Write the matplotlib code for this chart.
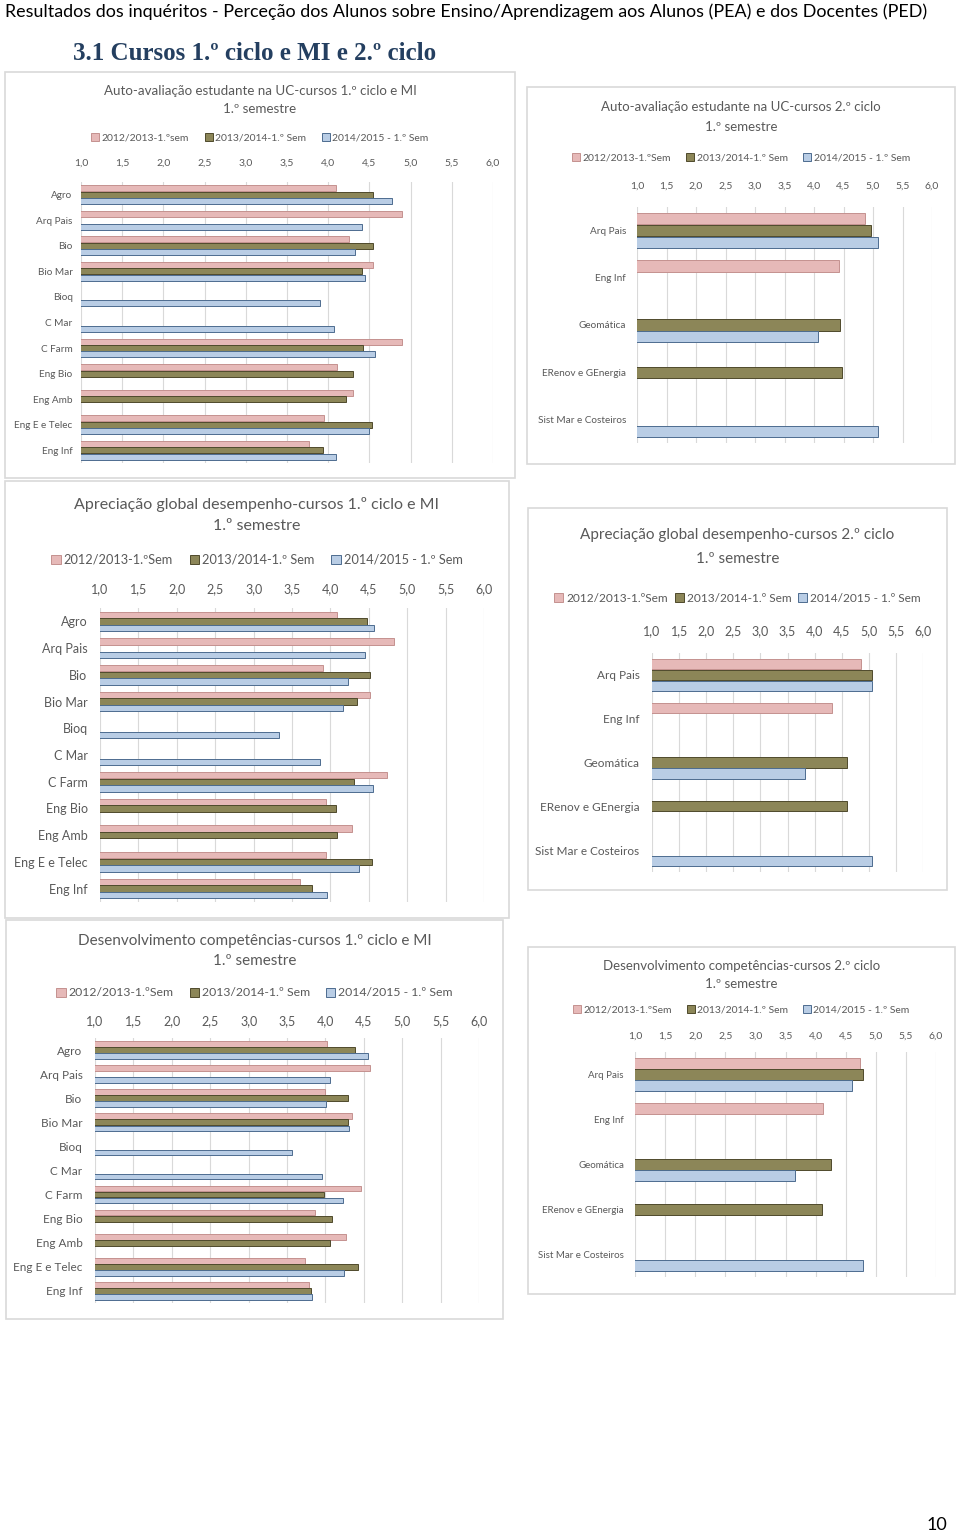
import numpy as np
import matplotlib
matplotlib.use("Agg")
from matplotlib import pyplot as plt
from matplotlib.patches import Patch, Rectangle

plt.rcParams["font.family"] = ["Lato", "DejaVu Sans"]

W, H = 960, 1536

# categories
cats_1 = ["Agro", "Arq Pais", "Bio", "Bio Mar", "Bioq", "C Mar", "C Farm",
          "Eng Bio", "Eng Amb", "Eng E e Telec", "Eng Inf"]
cats_2 = ["Arq Pais", "Eng Inf", "Geomática", "ERenov e GEnergia",
          "Sist Mar e Costeiros"]

# series labels
labels_a = ["2012/2013-1.ºsem", "2013/2014-1.º Sem", "2014/2015 - 1.º Sem"]
labels_b = ["2012/2013-1.ºSem", "2013/2014-1.º Sem", "2014/2015 - 1.º Sem"]

# Auto-avaliação estudante na UC
auto_1_1213 = [4.10, 4.89, 4.25, 4.54, None, None, 4.89, 4.11, 4.30, 3.95, 3.77]
auto_1_1314 = [4.54, None, 4.54, 4.41, None, None, 4.42, 4.30, 4.22, 4.53, 3.94]
auto_1_1415 = [4.77, 4.41, 4.32, 4.45, 3.90, 4.07, 4.57, None, None, 4.50, 4.10]
auto_2_1213 = [4.87, 4.43, None, None, None]
auto_2_1314 = [4.96, None, 4.44, 4.47, None]
auto_2_1415 = [5.09, None, 4.06, None, 5.08]

# Apreciação global desempenho
glob_1_1213 = [4.08, 4.83, 3.91, 4.51, None, None, 4.74, 3.94, 4.28, 3.94, 3.61]
glob_1_1314 = [4.48, None, 4.52, 4.34, None, None, 4.31, 4.07, 4.09, 4.54, 3.76]
glob_1_1415 = [4.57, 4.45, 4.23, 4.17, 3.33, 3.86, 4.55, None, None, 4.37, 3.96]
glob_2_1213 = [4.85, 4.33, None, None, None]
glob_2_1314 = [5.05, None, 4.60, 4.60, None]
glob_2_1415 = [5.05, None, 3.82, None, 5.05]

# Desenvolvimento competências
comp_1_1213 = [4.02, 4.58, 4.00, 4.35, None, None, 4.47, 3.86, 4.27, 3.74, 3.78]
comp_1_1314 = [4.39, None, 4.30, 4.29, None, None, 3.98, 4.09, 4.06, 4.42, 3.81]
comp_1_1415 = [4.55, 4.06, 4.01, 4.31, 3.57, 3.96, 4.23, None, None, 4.24, 3.83]
comp_2_1213 = [4.73, 4.13, None, None, None]
comp_2_1314 = [4.78, None, 4.25, 4.10, None]
comp_2_1415 = [4.60, None, 3.66, None, 4.79]

FILLS = ["#E6B9B8", "#8C8658", "#B9CDE5"]
EDGES = ["#C4918F", "#4F4A2C", "#4D6C8F"]
GREY = "#595959"


def fx(x):
    return x / W


def fy(y):
    return 1 - y / H


def chart(fig, panel, plot, title, title_y, title_fs, legend_y, legend_fs,
          labels, cats, series, tick_fs, cat_fs, tick_pad, cat_pad, colsp=1.3):
    px0, py0, px1, py1 = panel
    fig.add_artist(Rectangle((fx(px0), fy(py1)), fx(px1 - px0), (py1 - py0) / H,
                             transform=fig.transFigure, fill=False,
                             edgecolor="#D9D9D9", lw=1.2))
    x0, y0, x1, y1 = plot
    ax = fig.add_axes([fx(x0), fy(y1), fx(x1 - x0), (y1 - y0) / H])
    ypos = np.arange(len(cats))
    offsets = [-0.25, 0.0, 0.25]
    for vals, off, fc, ec in zip(series, offsets, FILLS, EDGES):
        idx = [i for i, v in enumerate(vals) if v is not None]
        ax.barh(ypos[idx] + off, [vals[i] for i in idx], height=0.235,
                color=fc, edgecolor=ec, lw=0.7, zorder=3)
    ax.set_xlim(1, 6)
    ax.set_ylim(len(cats) - 0.5, -0.5)
    ticks = np.arange(1, 6.01, 0.5)
    ax.set_xticks(ticks)
    ax.set_xticklabels([f"{t:.1f}".replace(".", ",") for t in ticks])
    ax.xaxis.tick_top()
    ax.tick_params(axis="x", length=0, pad=tick_pad, labelsize=tick_fs,
                   labelcolor=GREY)
    ax.set_yticks(ypos)
    ax.set_yticklabels(cats)
    ax.tick_params(axis="y", length=0, pad=cat_pad, labelsize=cat_fs,
                   labelcolor=GREY)
    ax.grid(axis="x", color="#D9D9D9", lw=0.8, zorder=0)
    for s in ax.spines.values():
        s.set_visible(False)

    cx = (px0 + px1) / 2
    fig.text(fx(cx), fy(title_y[0]), title[0], ha="center", va="center",
             fontsize=title_fs, color=GREY)
    fig.text(fx(cx), fy(title_y[1]), title[1], ha="center", va="center",
             fontsize=title_fs, color=GREY)
    handles = [Patch(facecolor=fc, edgecolor=ec, lw=0.7, label=l)
               for fc, ec, l in zip(FILLS, EDGES, labels)]
    fig.legend(handles=handles, loc="center", ncol=3, frameon=False,
               bbox_to_anchor=(fx(cx), fy(legend_y)), fontsize=legend_fs,
               handlelength=0.75, handleheight=0.75, handletextpad=0.25,
               columnspacing=colsp, labelcolor=GREY, borderpad=0)


fig = plt.figure(figsize=(W / 100, H / 100), dpi=100)

fig.text(fx(5), fy(12), "Resultados dos inquéritos - Perceção dos Alunos sobre "
         "Ensino/Aprendizagem aos Alunos (PEA) e dos Docentes (PED)",
         ha="left", va="center", fontsize=12.9, color="black")
fig.text(fx(73), fy(53), "3.1 Cursos 1.º ciclo e MI e 2.º ciclo", ha="left",
         va="center", fontsize=18, fontweight="bold", color="#243F60",
         family="Liberation Serif")
fig.text(fx(937), fy(1525), "10", ha="center", va="center", fontsize=13,
         color="black")

chart(fig, (5, 72, 515, 478), (81, 182, 493, 463),
      ["Auto-avaliação estudante na UC-cursos 1.º ciclo e MI", "1.º semestre"],
      (91, 109), 9.6, 138, 7.5, labels_a, cats_1,
      [auto_1_1213, auto_1_1314, auto_1_1415], 7.5, 7.2, 10, 6, 1.5)

chart(fig, (527, 87, 955, 464), (637, 207, 932, 443),
      ["Auto-avaliação estudante na UC-cursos 2.º ciclo", "1.º semestre"],
      (107, 127), 9.5, 158, 7.5, labels_b, cats_2,
      [auto_2_1213, auto_2_1314, auto_2_1415], 7.5, 7.2, 11.5, 8, 1.5)

chart(fig, (5, 481, 509, 918), (100, 608, 484, 902),
      ["Apreciação global desempenho-cursos 1.º ciclo e MI", "1.º semestre"],
      (504, 526), 11.5, 560, 9.2, labels_b, cats_1,
      [glob_1_1213, glob_1_1314, glob_1_1415], 9, 9, 9, 9, 1.3)

chart(fig, (528, 508, 947, 890), (652, 653, 923, 872),
      ["Apreciação global desempenho-cursos 2.º ciclo", "1.º semestre"],
      (535, 559), 11, 598, 8.6, labels_b, cats_2,
      [glob_2_1213, glob_2_1314, glob_2_1415], 9, 8.5, 11.5, 9, 0.6)

chart(fig, (6, 920, 503, 1319), (95, 1038, 479, 1303),
      ["Desenvolvimento competências-cursos 1.º ciclo e MI", "1.º semestre"],
      (941, 961), 11, 993, 8.8, labels_b, cats_1,
      [comp_1_1213, comp_1_1314, comp_1_1415], 9, 8.5, 8, 9, 1.3)

chart(fig, (528, 947, 955, 1294), (635, 1052, 936, 1277),
      ["Desenvolvimento competências-cursos 2.º ciclo", "1.º semestre"],
      (966, 984), 9.5, 1010, 7.5, labels_b, cats_2,
      [comp_2_1213, comp_2_1314, comp_2_1415], 7.5, 7, 8.5, 8, 1.4)

fig.savefig("out.png", dpi=100, facecolor="white")
